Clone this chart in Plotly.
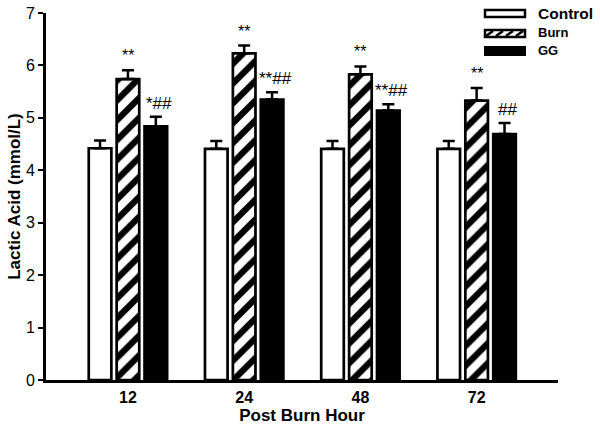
import plotly.graph_objects as go

hours = ["12", "24", "48", "72"]
control = [4.42, 4.41, 4.41, 4.41]
control_err = [0.15, 0.15, 0.15, 0.15]
burn = [5.74, 6.23, 5.83, 5.33]
burn_err = [0.17, 0.15, 0.15, 0.24]
gg = [4.84, 5.35, 5.14, 4.69]
gg_err = [0.18, 0.14, 0.12, 0.21]
burn_marks = ["**", "**", "**", "**"]
gg_marks = ["*##", "**##", "**##", "##"]

FONT = "Liberation Sans, Arial, sans-serif"
OUT = dict(color="black", width=2.7)

def err(a):
    return dict(type="data", symmetric=False, array=a, arrayminus=[0] * len(a),
                color="black", thickness=2.5, width=6)

fig = go.Figure()
fig.add_trace(go.Bar(x=hours, y=control, name="Control", error_y=err(control_err),
                     marker=dict(color="white", line=OUT)))
fig.add_trace(go.Bar(x=hours, y=burn, name="Burn", error_y=err(burn_err),
                     marker=dict(color="white", line=OUT,
                                 pattern=dict(shape="/", fgcolor="black", bgcolor="white",
                                              fgopacity=1, size=14, solidity=0.45))))
fig.add_trace(go.Bar(x=hours, y=gg, name="GG", error_y=err(gg_err),
                     marker=dict(color="black", line=OUT)))

off = 0.24
for i in range(len(hours)):
    fig.add_annotation(x=i, y=burn[i] + burn_err[i], text=burn_marks[i], showarrow=False,
                       yanchor="bottom", yshift=4, font=dict(family=FONT, size=16, color="black"))
    fig.add_annotation(x=i + off, y=gg[i] + gg_err[i], text=gg_marks[i], showarrow=False,
                       yanchor="bottom", xshift=3, yshift=2,
                       font=dict(family=FONT, size=17, color="black"))

# legend drawn manually (large swatches like the original)
L, W = 46, 512
T, H = 380.5, 367.5
def px(x):
    return (x - L) / W
def py(y):
    return (T - y) / H

x0, x1 = px(485), px(525)
fig.add_shape(type="rect", xref="paper", yref="paper", x0=x0, x1=x1, y0=py(17), y1=py(10),
              fillcolor="white", line=dict(color="black", width=2.5))
fig.add_shape(type="rect", xref="paper", yref="paper", x0=x0, x1=x1, y0=py(37), y1=py(30),
              fillcolor="white", line=dict(color="black", width=2.5))
hatch = ""
for xs in [490, 500, 510, 520]:
    hatch += f"M{px(xs - 4)},{py(36)} L{px(xs + 3)},{py(31)} "
fig.add_shape(type="path", xref="paper", yref="paper", path=hatch,
              line=dict(color="black", width=2.5))
fig.add_shape(type="rect", xref="paper", yref="paper", x0=x0, x1=x1, y0=py(55), y1=py(47),
              fillcolor="black", line=dict(color="black", width=2))
for name, yc, fs in [("Control", 13.5, 15.5), ("Burn", 33, 13), ("GG", 51, 13)]:
    fig.add_annotation(xref="paper", yref="paper", x=px(536), y=py(yc), text=f"<b>{name}</b>",
                       showarrow=False, xanchor="left", yanchor="middle",
                       font=dict(family=FONT, size=fs, color="black"))

fig.update_layout(
    template="none",
    width=600, height=426,
    margin=dict(l=46, r=42, t=13, b=45.5, pad=0),
    paper_bgcolor="white", plot_bgcolor="white",
    barmode="group", bargap=0.28, bargroupgap=0.19,
    showlegend=False,
    font=dict(family=FONT, color="black"),
)
fig.update_xaxes(
    type="category", range=[-0.705, 3.70], automargin=False,
    showline=True, linecolor="black", linewidth=3, ticks="", showgrid=False,
    tickfont=dict(family=FONT, size=16, color="black"), tickprefix="<b>", ticksuffix="</b>",
    ticklabelstandoff=1,
    title=dict(text="<b>Post Burn Hour</b>", font=dict(family=FONT, size=17, color="black"), standoff=0),
)
fig.update_yaxes(
    range=[0, 7], tickvals=[0, 1, 2, 3, 4, 5, 6, 7], automargin=False,
    showline=True, linecolor="black", linewidth=3, ticks="outside", ticklen=5, tickwidth=2,
    tickcolor="black", showgrid=False, zeroline=False,
    tickfont=dict(family=FONT, size=16, color="black"), tickprefix="<b>", ticksuffix="</b>",
    title=dict(text="<b>Lactic Acid (mmol/L)</b>", font=dict(family=FONT, size=17, color="black"), standoff=1),
)

fig.write_html("out.html", config={"displayModeBar": False},
               post_script="document.body.style.margin='0';")
